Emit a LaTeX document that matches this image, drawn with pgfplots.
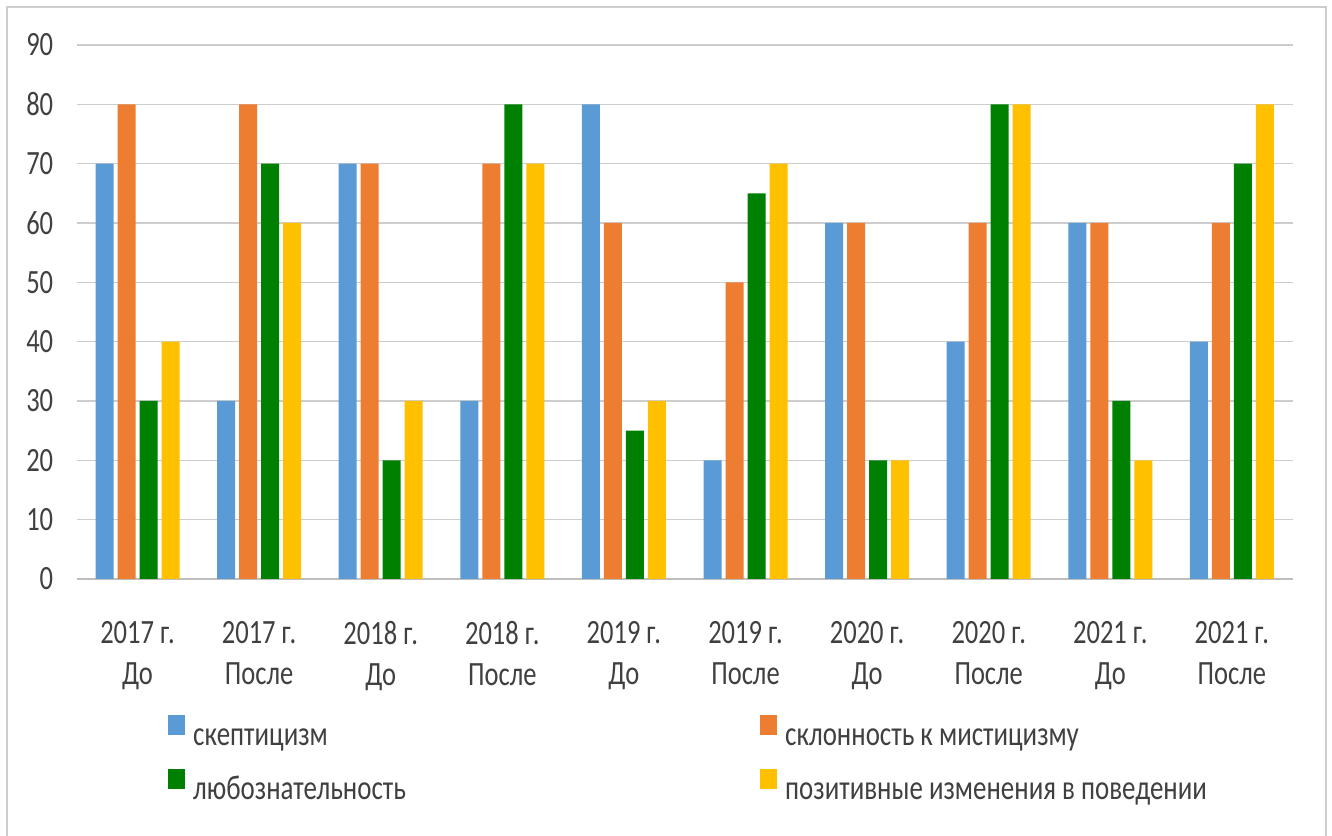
\documentclass[border=0pt]{standalone}
\usepackage{pgfplots}
\pgfplotsset{compat=1.18}
\usepackage{pgfplotstable}
\usepackage{fontspec}
\setmainfont{Carlito}[FakeStretch=0.78]
\definecolor{cBlue}{RGB}{91,155,213}
\definecolor{cOrange}{RGB}{237,125,49}
\definecolor{cGreen}{RGB}{0,128,0}
\definecolor{cYellow}{RGB}{255,192,0}
\definecolor{cText}{RGB}{64,64,64}
\definecolor{cGrid}{RGB}{205,205,205}
\definecolor{cAxis}{RGB}{190,190,190}
\definecolor{cFrame}{RGB}{205,205,205}
\pgfplotstableread{
x s m c p
0 70 80 30 40
1 30 80 70 60
2 70 70 20 30
3 30 70 80 70
4 80 60 25 30
5 20 50 65 70
6 60 60 20 20
7 40 60 80 80
8 60 60 30 20
9 40 60 70 80
}\data
\newcommand{\fs}{\fontsize{34bp}{41bp}\selectfont}
\newcommand{\fl}{\fontsize{34.5bp}{41bp}\selectfont}
\begin{document}
\begin{tikzpicture}[x=1bp,y=1bp]
\path[use as bounding box] (0,0) rectangle (1332,835);
\fill[white] (0,0) rectangle (1332,835);
\draw[cFrame, line width=2bp] (7,-10) -- (7,828) -- (1326,828) -- (1326,-10);
\begin{axis}[at={(76.7bp,256bp)}, anchor=south west, scale only axis,
  width=1216bp, height=534bp,
  ymin=0, ymax=90, ytick={0,10,...,90},
  xmin=-0.5, xmax=9.5, xtick={0,...,9},
  xticklabels={{2017 г.\\До},{2017 г.\\После},{2018 г.\\До},{2018 г.\\После},{2019 г.\\До},{2019 г.\\После},{2020 г.\\До},{2020 г.\\После},{2021 г.\\До},{2021 г.\\После}},
  ybar=4bp, bar width=18bp,
  axis x line*=bottom, axis y line*=left,
  x axis line style={-, draw=cAxis, line width=1.5bp},
  y axis line style={draw=none},
  ymajorgrids, grid style={cGrid, line width=1.5bp},
  major tick length=0pt, tick style={draw=none},
  tick label style={font=\fs, text=cText},
  /pgf/number format/assume math mode=true,
  xticklabel style={align=center, yshift=-39bp},
  yticklabel style={xshift=-20bp},
  legend columns=2,
  legend cell align=left,
  legend style={at={(0,0)}, anchor=north west, xshift=91.3bp, yshift=-136bp,
    draw=none, fill=none, inner sep=0pt, row sep=14bp, column sep=0pt,
    nodes={inner sep=0pt, text=cText, font=\fl, text height=26bp, text depth=9bp}},
  legend image code/.code={\fill[#1,draw=none] (0bp,2bp) rectangle (17bp,22bp); \path (25bp,0bp);},
]
\addplot[fill=cBlue, draw=none] table[x=x,y=s]{\data};
\addplot[fill=cOrange, draw=none] table[x=x,y=m]{\data};
\addplot[fill=cGreen, draw=none] table[x=x,y=c]{\data};
\addplot[fill=cYellow, draw=none] table[x=x,y=p]{\data};
\legend{\makebox[567bp][l]{скептицизм}, склонность к мистицизму, \makebox[567bp][l]{любознательность}, позитивные изменения в поведении}
\end{axis}
\end{tikzpicture}
\end{document}
